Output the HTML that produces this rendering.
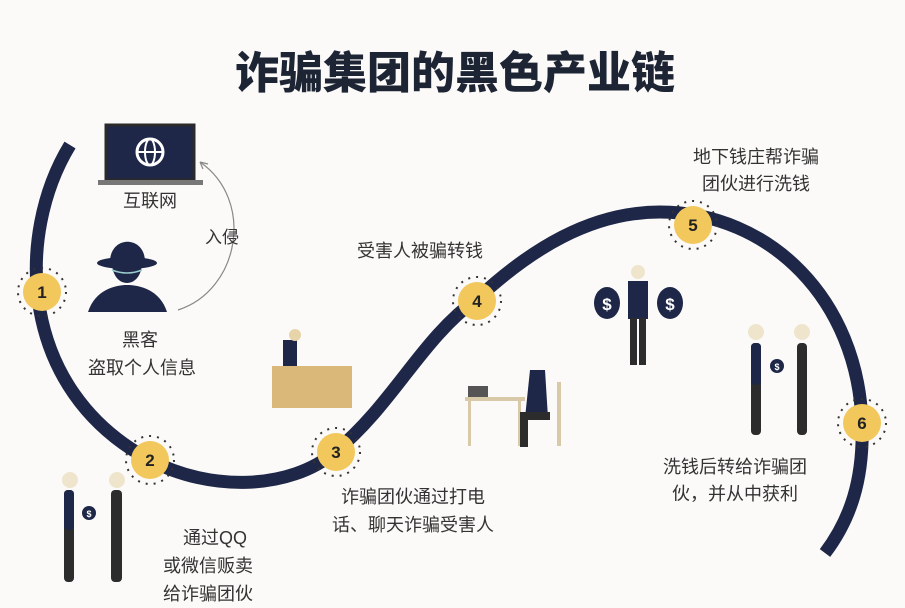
<!DOCTYPE html>
<html><head><meta charset="utf-8"><style>
html,body{margin:0;padding:0;background:#fbfaf8;}
svg{display:block}
text{font-family:"Liberation Sans","Noto Sans CJK SC",sans-serif;}
</style></head><body>
<svg width="905" height="608" viewBox="0 0 905 608" xmlns="http://www.w3.org/2000/svg">
<rect width="905" height="608" fill="#fbfaf8"/>
<text x="455" y="88" text-anchor="middle" font-size="44" font-weight="900" fill="#1d2535">诈骗集团的黑色产业链</text>

<path d="M70,145 C15,235 18,390 150,460 C210,492 290,490 335,452 C395,402 420,340 478,298 C530,250 590,212 660,212 C770,212 858,300 862,423 C864,480 850,520 825,553" fill="none" stroke="#1e2748" stroke-width="13"/>

<rect x="106" y="125" width="88" height="55" fill="#1e2748" stroke="#2a2a2a" stroke-width="3"/>
<rect x="98" y="180" width="105" height="5" fill="#777"/>
<circle cx="150" cy="152" r="13" fill="none" stroke="#fff" stroke-width="3"/>
<line x1="137" y1="152" x2="163" y2="152" stroke="#fff" stroke-width="2"/>
<ellipse cx="150" cy="152" rx="5" ry="13" fill="none" stroke="#fff" stroke-width="2"/>
<text x="150" y="207" text-anchor="middle" font-size="18" fill="#333">互联网</text>

<path d="M178,310 C240,290 255,200 200,162" fill="none" stroke="#888" stroke-width="1.2"/>
<path d="M200,162 l8,2 M200,162 l3,7" stroke="#888" stroke-width="1.2"/>
<text x="222" y="243" text-anchor="middle" font-size="17" fill="#333">入侵</text>

<ellipse cx="127" cy="263" rx="30" ry="6" fill="#1e2748"/>
<path d="M110,262 C110,235 145,235 145,262 Z" fill="#1e2748"/>
<path d="M112,262 C112,290 142,290 142,262 Z" fill="#1e2748"/>
<path d="M88,312 C95,290 115,285 127,285 C140,285 160,290 167,312 Z" fill="#1e2748"/>
<path d="M112,270 q15,6 30,0" stroke="#9cc" stroke-width="1.5" fill="none"/>
<text x="140" y="346" text-anchor="middle" font-size="18" fill="#333">黑客</text>
<text x="142" y="374" text-anchor="middle" font-size="18" fill="#333">盗取个人信息</text>

<rect x="272" y="366" width="80" height="42" fill="#d9b87a"/>
<rect x="283" y="340" width="14" height="26" fill="#1e2748"/>
<circle cx="295" cy="335" r="6" fill="#e7d4a8"/>

<circle cx="70" cy="480" r="8" fill="#efe5cc"/>
<circle cx="117" cy="480" r="8" fill="#efe5cc"/>
<rect x="64" y="490" width="10" height="92" rx="4" fill="#2c2c2c"/>
<rect x="64" y="490" width="10" height="40" rx="4" fill="#1e2748"/>
<rect x="111" y="490" width="11" height="92" rx="4" fill="#2c2c2c"/>
<circle cx="89" cy="513" r="7" fill="#1e2748"/>
<text x="89" y="517" text-anchor="middle" font-size="9" fill="#fff" font-weight="bold">$</text>
<text x="215" y="544" text-anchor="middle" font-size="18" fill="#333">通过QQ</text>
<text x="208" y="572" text-anchor="middle" font-size="18" fill="#333">或微信贩卖</text>
<text x="208" y="600" text-anchor="middle" font-size="18" fill="#333">给诈骗团伙</text>

<text x="413" y="503" text-anchor="middle" font-size="18" fill="#333">诈骗团伙通过打电</text>
<text x="413" y="531" text-anchor="middle" font-size="18" fill="#333">话、聊天诈骗受害人</text>
<text x="420" y="257" text-anchor="middle" font-size="18" fill="#333">受害人被骗转钱</text>

<rect x="465" y="397" width="60" height="4" fill="#d8c9a8"/>
<rect x="468" y="401" width="3" height="45" fill="#d8c9a8"/>
<rect x="518" y="401" width="3" height="45" fill="#d8c9a8"/>
<rect x="468" y="386" width="20" height="11" fill="#555"/>
<path d="M530,370 L545,370 L548,418 L525,418 Z" fill="#1e2748"/>
<rect x="520" y="412" width="30" height="8" fill="#2c2c2c"/>
<rect x="520" y="412" width="8" height="35" fill="#2c2c2c"/>
<rect x="557" y="382" width="4" height="64" fill="#d8c9a8"/>

<rect x="628" y="281" width="20" height="38" fill="#1e2748"/>
<rect x="630" y="318" width="7" height="47" fill="#2c2c2c"/>
<rect x="639" y="318" width="7" height="47" fill="#2c2c2c"/>
<circle cx="638" cy="272" r="7" fill="#efe5cc"/>
<ellipse cx="607" cy="303" rx="13" ry="16" fill="#1e2748"/>
<ellipse cx="670" cy="303" rx="13" ry="16" fill="#1e2748"/>
<text x="607" y="310" text-anchor="middle" font-size="17" font-weight="bold" fill="#fff">$</text>
<text x="670" y="310" text-anchor="middle" font-size="17" font-weight="bold" fill="#fff">$</text>
<text x="756" y="163" text-anchor="middle" font-size="18" fill="#333">地下钱庄帮诈骗</text>
<text x="756" y="190" text-anchor="middle" font-size="18" fill="#333">团伙进行洗钱</text>

<circle cx="756" cy="332" r="8" fill="#efe5cc"/>
<circle cx="802" cy="332" r="8" fill="#efe5cc"/>
<rect x="751" y="343" width="10" height="92" rx="4" fill="#2c2c2c"/>
<rect x="751" y="343" width="10" height="42" rx="4" fill="#1e2748"/>
<rect x="797" y="343" width="10" height="92" rx="4" fill="#2c2c2c"/>
<circle cx="777" cy="366" r="7" fill="#1e2748"/>
<text x="777" y="370" text-anchor="middle" font-size="9" font-weight="bold" fill="#fff">$</text>
<text x="735" y="473" text-anchor="middle" font-size="18" fill="#333">洗钱后转给诈骗团</text>
<text x="735" y="500" text-anchor="middle" font-size="18" fill="#333">伙，并从中获利</text>

<g font-size="17" font-weight="bold" fill="#222" text-anchor="middle">
<g transform="translate(42,292)"><circle r="24" fill="none" stroke="#333" stroke-width="2" stroke-dasharray="2 6"/><circle r="19" fill="#f2c75c"/><text y="6">1</text></g>
<g transform="translate(150,460)"><circle r="24" fill="none" stroke="#333" stroke-width="2" stroke-dasharray="2 6"/><circle r="19" fill="#f2c75c"/><text y="6">2</text></g>
<g transform="translate(336,452)"><circle r="24" fill="none" stroke="#333" stroke-width="2" stroke-dasharray="2 6"/><circle r="19" fill="#f2c75c"/><text y="6">3</text></g>
<g transform="translate(477,301)"><circle r="24" fill="none" stroke="#333" stroke-width="2" stroke-dasharray="2 6"/><circle r="19" fill="#f2c75c"/><text y="6">4</text></g>
<g transform="translate(693,225)"><circle r="24" fill="none" stroke="#333" stroke-width="2" stroke-dasharray="2 6"/><circle r="19" fill="#f2c75c"/><text y="6">5</text></g>
<g transform="translate(862,423)"><circle r="24" fill="none" stroke="#333" stroke-width="2" stroke-dasharray="2 6"/><circle r="19" fill="#f2c75c"/><text y="6">6</text></g>
</g>
</svg>
</body></html>
